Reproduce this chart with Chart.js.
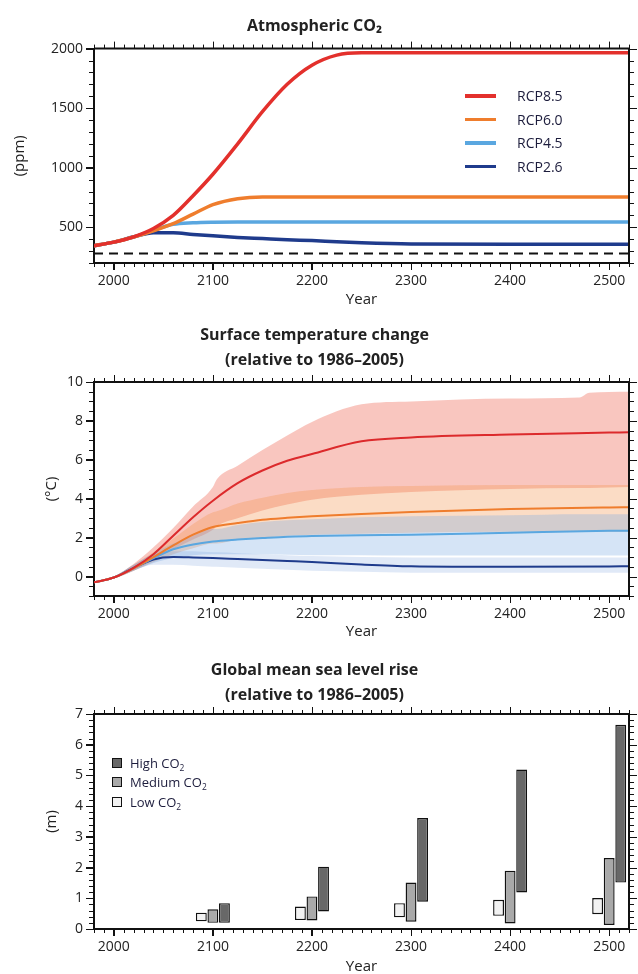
<!DOCTYPE html>
<html>
<head>
<meta charset="utf-8">
<title>RCP projections to 2500</title>
<script src="https://cdn.jsdelivr.net/npm/chart.js@4.4.1/dist/chart.umd.min.js"></script>
<style>
  html, body { margin: 0; padding: 0; background: #fff; width: 638px; height: 974px; overflow: hidden; }
  .panel { position: absolute; left: 0; }
  .legend { position: absolute; font-family: 'Open Sans', sans-serif; color: #1c1c3c; }
  .legend .row { display: flex; align-items: center; white-space: nowrap; }
  #co2Legend { left: 465px; top: 84px; font-size: 14px; }
  #co2Legend .row { height: 23.6px; }
  #co2Legend .swatch { width: 31px; height: 3.5px; margin-right: 21px; }
  #seaLegend { left: 112px; top: 753px; font-size: 13px; }
  #seaLegend .row { height: 19.5px; }
  #seaLegend .swatch { width: 8px; height: 8px; border: 1.4px solid #111; margin-right: 8px; }
  sub { font-size: 65%; vertical-align: -3px; line-height: 0; }
</style>
</head>
<body>
<canvas id="co2Chart" class="panel" width="638" height="320" style="top:0px"></canvas>
<canvas id="tempChart" class="panel" width="638" height="330" style="top:320px"></canvas>
<canvas id="seaChart" class="panel" width="638" height="330" style="top:650px"></canvas>
<div id="co2Legend" class="legend"></div>
<div id="seaLegend" class="legend"></div>

<script>
/************************************************************************
 *                               DATA
 ************************************************************************/

// Atmospheric CO2 (ppm)
const co2Years  = [1980, 2000, 2020, 2040, 2060, 2080, 2100, 2125, 2150, 2175, 2200, 2225, 2250, 2300, 2400, 2500, 2520];
const co2Rcp85  = [345, 375, 420, 490, 600, 765, 945, 1200, 1470, 1700, 1860, 1945, 1965, 1965, 1965, 1965, 1965];
const co2Rcp60  = [345, 375, 418, 470, 530, 610, 690, 740, 755, 755, 755, 755, 755, 755, 755, 755, 755];
const co2Rcp45  = [345, 375, 418, 475, 525, 538, 543, 545, 545, 545, 545, 545, 545, 545, 545, 545, 545];
const co2Rcp26  = [345, 375, 420, 455, 455, 440, 428, 415, 405, 395, 388, 378, 370, 360, 357, 357, 357];
const preIndustrialYears = [1980, 2520];
const preIndustrialCo2   = [280, 280];

// Surface temperature change (°C), model means
const tempYears  = [1980, 2000, 2020, 2040, 2060, 2080, 2100, 2125, 2150, 2175, 2200, 2250, 2300, 2400, 2500, 2520];
const tempRcp85  = [-0.3, -0.05, 0.45, 1.15, 2.1, 3.05, 3.9, 4.8, 5.45, 5.95, 6.3, 6.95, 7.15, 7.3, 7.4, 7.42];
const tempRcp60  = [-0.3, -0.05, 0.42, 1.0, 1.6, 2.15, 2.55, 2.75, 2.92, 3.02, 3.1, 3.22, 3.32, 3.47, 3.55, 3.56];
const tempRcp45  = [-0.3, -0.05, 0.42, 0.95, 1.4, 1.65, 1.8, 1.9, 1.98, 2.05, 2.08, 2.12, 2.15, 2.25, 2.35, 2.36];
const tempRcp26  = [-0.3, -0.05, 0.45, 0.88, 1.0, 0.98, 0.95, 0.9, 0.85, 0.8, 0.75, 0.62, 0.53, 0.5, 0.52, 0.53];

// Surface temperature change (°C), model ranges
const bandYears    = [1980, 2000, 2020, 2040, 2060, 2080, 2100, 2104, 2125, 2150, 2175, 2200, 2250, 2300, 2400, 2470, 2480, 2520];
const rcp85High    = [-0.3, 0.0, 0.65, 1.5, 2.5, 3.6, 4.6, 5.0, 5.7, 6.5, 7.25, 7.95, 8.85, 9.0, 9.15, 9.2, 9.45, 9.5];
const rcp85Low     = [-0.3, -0.1, 0.3, 0.85, 1.4, 1.9, 2.4, 2.6, 3.0, 3.4, 3.7, 3.95, 4.2, 4.35, 4.5, 4.55, 4.55, 4.6];
const rcp60High    = [-0.3, 0.0, 0.6, 1.25, 1.95, 2.7, 3.3, 3.35, 3.75, 4.05, 4.3, 4.45, 4.6, 4.65, 4.7, 4.7, 4.7, 4.7];
const rcp60Low     = [-0.3, -0.1, 0.3, 0.75, 1.15, 1.45, 1.7, 1.7, 1.9, 2.0, 2.1, 2.15, 2.2, 2.25, 2.3, 2.3, 2.3, 2.3];
const rcp45High    = [-0.3, 0.0, 0.6, 1.2, 1.7, 2.1, 2.45, 2.45, 2.65, 2.8, 2.9, 2.95, 3.05, 3.1, 3.15, 3.2, 3.2, 3.2];
const rcp45Low     = [-0.3, -0.1, 0.3, 0.7, 0.95, 1.1, 1.15, 1.15, 1.15, 1.15, 1.12, 1.1, 1.1, 1.08, 1.08, 1.08, 1.08, 1.08];
const rcp26High    = [-0.3, 0.0, 0.6, 1.15, 1.3, 1.3, 1.25, 1.25, 1.2, 1.15, 1.1, 1.05, 1.0, 0.98, 0.98, 0.98, 0.98, 0.98];
const rcp26Low     = [-0.3, -0.1, 0.3, 0.6, 0.6, 0.55, 0.5, 0.5, 0.45, 0.4, 0.35, 0.3, 0.25, 0.2, 0.2, 0.2, 0.2, 0.2];

// Global mean sea level rise (m), [min, max] per year
const seaYears   = [2100, 2200, 2300, 2400, 2500];
const seaLowCo2  = [[0.25, 0.53], [0.29, 0.73], [0.38, 0.84], [0.43, 0.95], [0.48, 1.01]];
const seaMedCo2  = [[0.2, 0.64], [0.28, 1.06], [0.24, 1.51], [0.18, 1.9], [0.13, 2.31]];
const seaHighCo2 = [[0.2, 0.84], [0.57, 2.03], [0.89, 3.61], [1.19, 5.19], [1.51, 6.65]];

// tick labels
const yearTickLabels = [2000, 2100, 2200, 2300, 2400, 2500];
const co2TickLabels  = [500, 1000, 1500, 2000];
const tempTickLabels = [0, 2, 4, 6, 8, 10];
const seaTickLabels  = [0, 1, 2, 3, 4, 5, 6, 7];

/************************************************************************
 *                          AXIS SETTINGS
 ************************************************************************/
const yearAxis = { min: 1980, max: 2520, step: 100, minor: 10, labels: yearTickLabels };
const co2Axis  = { min: 200, max: 2000, step: 500, minor: 100, labels: co2TickLabels };
const tempAxis = { min: -1, max: 10, step: 2, minor: 0.5, labels: tempTickLabels };
const seaAxis  = { min: 0, max: 7, step: 1, minor: 0.2, labels: seaTickLabels };

const RED = "#e3302c";
const ORANGE = "#ef7d2d";
const LIGHT_BLUE = "#5aa7e0";
const NAVY = "#1f3b8c";
const INK = "#222";
const AXIS = "#111";

Chart.defaults.font.family = "'Open Sans', sans-serif";
Chart.defaults.color = INK;
Chart.defaults.animation = false;

function toPoints(xs, ys) {
  return xs.map((x, i) => ({ x: x, y: ys[i] }));
}

/************************************************************************
 *                         FRAME + MINOR TICKS
 ************************************************************************/
function eachStep(min, max, step, fn) {
  const first = Math.ceil(min / step - 1e-9);
  const last = Math.floor(max / step + 1e-9);
  for (let k = first; k <= last; k++) fn(k * step);
}

function isMajor(v, step) {
  const r = v / step;
  return Math.abs(r - Math.round(r)) < 1e-6;
}

const frameTicks = {
  id: "frameTicks",
  afterDraw(chart, args, opts) {
    const { ctx, chartArea: a } = chart;
    const x = chart.scales.x;
    const y = chart.scales.y;
    ctx.save();
    ctx.strokeStyle = AXIS;
    ctx.lineWidth = 2;
    ctx.beginPath();
    ctx.moveTo(a.left, a.top);
    ctx.lineTo(a.right, a.top);
    ctx.lineTo(a.right, a.bottom);
    ctx.stroke();

    ctx.lineWidth = 1;
    ctx.beginPath();
    eachStep(opts.x.min, opts.x.max, opts.x.minor, (v) => {
      const px = Math.round(x.getPixelForValue(v)) + 0.5;
      const len = isMajor(v, opts.x.step) ? 7 : 4;
      ctx.moveTo(px, a.bottom);
      ctx.lineTo(px, a.bottom + len);
      ctx.moveTo(px, a.top);
      ctx.lineTo(px, a.top - len);
    });
    eachStep(opts.y.min, opts.y.max, opts.y.minor, (v) => {
      const py = Math.round(y.getPixelForValue(v)) + 0.5;
      const len = isMajor(v, opts.y.step) ? 8 : 5;
      ctx.moveTo(a.left, py);
      ctx.lineTo(a.left - len, py);
      ctx.moveTo(a.right, py);
      ctx.lineTo(a.right + len, py);
    });
    ctx.stroke();
    ctx.restore();
  },
};

/************************************************************************
 *                               AXES
 ************************************************************************/
function fixedTicks(values) {
  return (scale) => { scale.ticks = values.map((v) => ({ value: v })); };
}

function buildXAxis(axisHeight, titlePadBottom) {
  return {
    type: "linear",
    min: yearAxis.min,
    max: yearAxis.max,
    offset: false,
    afterBuildTicks: fixedTicks(yearAxis.labels),
    ticks: {
      autoSkip: false,
      maxRotation: 0,
      padding: 3,
      color: INK,
      font: { size: 14 },
      callback: (v) => String(v),
    },
    grid: { drawOnChartArea: false, drawTicks: true, tickLength: 7, color: AXIS, lineWidth: 1, offset: false },
    border: { display: true, color: AXIS, width: 2 },
    title: { display: true, text: "Year", color: INK, font: { size: 15 }, padding: { top: 0, bottom: titlePadBottom } },
    afterFit: (scale) => { scale.height = axisHeight; },
  };
}

function buildYAxis(t, label, titleOffset) {
  return {
    type: "linear",
    min: t.min,
    max: t.max,
    afterBuildTicks: fixedTicks(t.labels),
    ticks: {
      autoSkip: false,
      padding: 3,
      color: INK,
      font: { size: 14 },
      callback: (v) => String(v),
    },
    grid: { drawOnChartArea: false, drawTicks: true, tickLength: 8, color: AXIS, lineWidth: 1 },
    border: { display: true, color: AXIS, width: 2 },
    title: { display: true, text: label, color: INK, font: { size: 15 }, padding: { top: titleOffset, bottom: 0 } },
    afterFit: (scale) => { scale.width = 94; },
  };
}

function buildTitle(text, padTop, padBottom) {
  return {
    display: true,
    text: text,
    color: INK,
    font: { size: 16, weight: "bold", lineHeight: 25 / 16 },
    padding: { top: padTop, bottom: padBottom },
  };
}

function baseOptions(title, xAxis, yAxis, yTicks) {
  return {
    responsive: false,
    layout: { padding: { left: 0, right: 9, top: 0, bottom: 0 } },
    scales: { x: xAxis, y: yAxis },
    plugins: {
      title: title,
      legend: { display: false },
      tooltip: { enabled: false },
      frameTicks: { x: yearAxis, y: yTicks },
    },
  };
}

/************************************************************************
 *                         ATMOSPHERIC CO2
 ************************************************************************/
function co2Line(label, values, color) {
  return {
    label: label,
    data: toPoints(co2Years, values),
    borderColor: color,
    backgroundColor: color,
    borderWidth: 3.5,
    pointRadius: 0,
    cubicInterpolationMode: "monotone",
    fill: false,
    showInLegend: true,
  };
}

function buildCo2Chart() {
  const title = buildTitle("Atmospheric CO\u2082", 14, 9);
  title.font.lineHeight = 1.6;
  const options = baseOptions(title, buildXAxis(57, 11), buildYAxis(co2Axis, "(ppm)", 11), co2Axis);
  return new Chart(document.getElementById("co2Chart"), {
    type: "line",
    data: {
      datasets: [
        co2Line("RCP8.5", co2Rcp85, RED),
        co2Line("RCP6.0", co2Rcp60, ORANGE),
        co2Line("RCP4.5", co2Rcp45, LIGHT_BLUE),
        co2Line("RCP2.6", co2Rcp26, NAVY),
        {
          label: "pre-industrial",
          data: toPoints(preIndustrialYears, preIndustrialCo2),
          borderColor: "#111",
          borderWidth: 2,
          borderDash: [9, 6],
          pointRadius: 0,
          fill: false,
        },
      ],
    },
    options: options,
    plugins: [frameTicks],
  });
}

/************************************************************************
 *                      SURFACE TEMPERATURE CHANGE
 ************************************************************************/
function tempLine(label, values, color, order) {
  return {
    label: label,
    data: toPoints(tempYears, values),
    borderColor: color,
    borderWidth: 2,
    pointRadius: 0,
    cubicInterpolationMode: "monotone",
    fill: false,
    order: order,
  };
}

function tempBand(label, high, low, fillColor, order) {
  const common = { pointRadius: 0, borderWidth: 0, cubicInterpolationMode: "monotone", order: order };
  return [
    { label: label + " high", data: toPoints(bandYears, high), fill: "+1", backgroundColor: fillColor, ...common },
    { label: label + " low", data: toPoints(bandYears, low), fill: false, ...common },
  ];
}

function buildTempChart() {
  const title = buildTitle(["Surface temperature change", "(relative to 1986\u20132005)"], 2.5, 9.5);
  const options = baseOptions(title, buildXAxis(54, 9), buildYAxis(tempAxis, "(\u00b0C)", 43), tempAxis);
  return new Chart(document.getElementById("tempChart"), {
    type: "line",
    data: {
      datasets: [
        ...tempBand("RCP8.5", rcp85High, rcp85Low, "rgba(240,120,102,0.42)", 14),
        ...tempBand("RCP6.0", rcp60High, rcp60Low, "rgba(242,150,80,0.33)", 13),
        ...tempBand("RCP4.5", rcp45High, rcp45Low, "rgba(115,165,225,0.30)", 12),
        ...tempBand("RCP2.6", rcp26High, rcp26Low, "rgba(100,145,215,0.20)", 11),
        tempLine("RCP2.6", tempRcp26, NAVY, 3),
        tempLine("RCP4.5", tempRcp45, LIGHT_BLUE, 2),
        tempLine("RCP6.0", tempRcp60, ORANGE, 1),
        tempLine("RCP8.5", tempRcp85, "#dc2a2c", 0),
      ],
    },
    options: options,
    plugins: [frameTicks],
  });
}

/************************************************************************
 *                     GLOBAL MEAN SEA LEVEL RISE
 ************************************************************************/
function seaBars(label, ranges, color) {
  return {
    label: label,
    data: seaYears.map((yr, i) => ({ x: yr, y: ranges[i] })),
    backgroundColor: color,
    borderColor: AXIS,
    borderWidth: 1.4,
    borderSkipped: false,
    categoryPercentage: 0.35,
    barPercentage: 0.94,
  };
}

function buildSeaChart() {
  const title = buildTitle(["Global mean sea level rise", "(relative to 1986\u20132005)"], 7.5, 6.5);
  const options = baseOptions(title, buildXAxis(51, 4), buildYAxis(seaAxis, "(m)", 43), seaAxis);
  return new Chart(document.getElementById("seaChart"), {
    type: "bar",
    data: {
      datasets: [
        seaBars("Low CO\u2082", seaLowCo2, "#f2f2f2"),
        seaBars("Medium CO\u2082", seaMedCo2, "#a9a9a9"),
        seaBars("High CO\u2082", seaHighCo2, "#686868"),
      ],
    },
    options: options,
    plugins: [frameTicks],
  });
}

/************************************************************************
 *                          HTML LEGENDS
 ************************************************************************/
function subscriptHtml(text) {
  return text.replace("\u2082", "<sub>2</sub>");
}

function renderCo2Legend(chart) {
  const box = document.getElementById("co2Legend");
  chart.data.datasets.filter((d) => d.showInLegend).forEach((d) => {
    const row = document.createElement("div");
    row.className = "row";
    row.innerHTML = '<span class="swatch" style="background:' + d.borderColor + '"></span><span>' + d.label + "</span>";
    box.appendChild(row);
  });
}

function renderSeaLegend(chart) {
  const box = document.getElementById("seaLegend");
  chart.data.datasets.slice().reverse().forEach((d) => {
    const row = document.createElement("div");
    row.className = "row";
    row.innerHTML = '<span class="swatch" style="background:' + d.backgroundColor + '"></span><span>' + subscriptHtml(d.label) + "</span>";
    box.appendChild(row);
  });
}

/************************************************************************
 *                              RENDER
 ************************************************************************/
const co2Chart = buildCo2Chart();
buildTempChart();
const seaChart = buildSeaChart();
renderCo2Legend(co2Chart);
renderSeaLegend(seaChart);
</script>
</body>
</html>
